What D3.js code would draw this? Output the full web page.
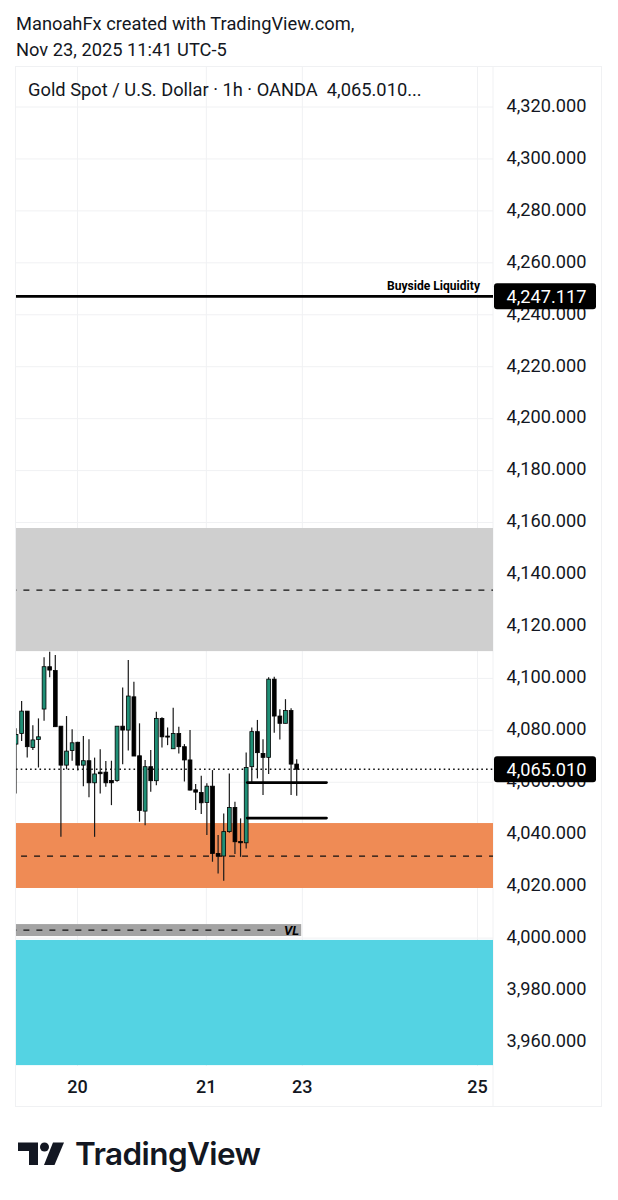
<!DOCTYPE html>
<html>
<head>
    <title>Gold Spot</title>
    <script src="https://d3js.org/d3.v7.min.js"></script>
    <style>
        html, body { margin: 0; padding: 0; background: #fff; }
        svg { display: block; font-family: Roboto, sans-serif; }
    </style>
</head>
<body>
    <svg id="chart" width="618" height="1200"></svg>

    <script>
        // candles
        var opens = [4074.7,4078.8,4087.4,4073.4,4076.5,4088.2,4104.5,4103.0,4081.6,4066.6,4072.2,4075.4,4066.6,4068.3,4059.8,4063.9,4063.9,4060.7,4060.7,4081.6,4080.1,4092.9,4070.2,4048.9,4066.0,4060.6,4084.6,4077.8,4072.9,4078.8,4073.7,4068.6,4057.1,4056.1,4052.2,4058.5,4032.6,4031.6,4041.0,4050.3,4037.2,4036.7,4066.0,4079.5,4071.1,4069.6,4099.7,4085.5,4082.7,4087.6,4067.0];
        var highs = [4080.8,4091.3,4087.4,4082.0,4084.6,4108.1,4110.3,4109.0,4081.6,4085.5,4080.4,4075.6,4077.8,4076.6,4069.5,4072.7,4068.2,4068.3,4081.6,4096.5,4107.1,4098.7,4082.7,4068.6,4072.4,4087.2,4085.0,4081.1,4088.7,4081.4,4074.7,4080.1,4059.3,4062.5,4059.6,4064.7,4039.7,4048.0,4063.4,4052.5,4046.1,4071.5,4081.1,4084.0,4076.6,4100.4,4100.6,4088.1,4092.0,4088.5,4068.9];
        var lows = [4055.7,4075.9,4069.5,4072.4,4065.7,4083.7,4100.4,4081.4,4039.0,4065.0,4068.3,4064.5,4058.5,4054.2,4039.0,4055.7,4058.3,4051.2,4060.2,4066.9,4072.2,4070.1,4044.8,4043.5,4056.4,4058.9,4073.4,4074.3,4072.9,4071.1,4060.3,4056.8,4049.3,4047.8,4039.7,4029.4,4024.9,4022.1,4040.6,4032.4,4031.3,4034.5,4059.6,4061.5,4055.1,4063.2,4079.1,4076.5,4082.7,4055.1,4054.8];
        var closes = [4078.4,4087.4,4073.7,4076.3,4077.5,4104.5,4103.2,4081.4,4066.6,4072.0,4075.2,4066.6,4068.3,4059.8,4063.2,4063.3,4059.8,4059.8,4081.6,4080.1,4093.2,4070.1,4049.1,4066.0,4060.6,4084.6,4077.5,4077.4,4078.8,4073.7,4068.6,4057.0,4056.2,4052.1,4058.5,4032.6,4031.6,4041.0,4050.3,4037.1,4036.7,4065.7,4079.5,4071.4,4069.6,4099.7,4085.5,4082.7,4087.6,4067.0,4065.0];

        var priceTicks = [4320,4300,4280,4260,4240,4220,4200,4180,4160,4140,4120,4100,4080,4060,4040,4020,4000,3980,3960];
        var timeTicks = [10.95,33.9,51,82.2];
        var timeLabels = ["20","21","23","25"];

        // zones: top price, bottom price, mid price, last bar
        var zoneNames = ["gray","orange","strip","cyan"];
        var zoneTops = [4157.9,4044.3,4005.4,3999.3];
        var zoneBottoms = [4110.5,4019.3,4000.8,3951.1];
        var zoneMids = [4134.0,4031.6,4003.1,null];
        var zoneEnds = [null,null,50.8,null];
        var zoneStarts = [-1,0.9,-1,null];
        var zoneColors = ["#cfcfcf","#ef8b55","#a3a3a3","#54d3e3"];

        var levelPrices = [4059.9,4046.2];
        var levelStart = 41.2, levelEnd = 55.3;
        var lastPrice = 4065.01;
        var buysidePrice = 4247.117;

        var paneLeft = 16, paneRight = 493, paneTop = 67, paneBottom = 1066, frameRight = 602, frameBottom = 1107;

        var svg = d3.select("#chart");
        var x = d3.scaleLinear().domain([0, 50]).range([16, 296.7]);
        var y = d3.scaleLinear().domain([4320, 3960]).range([107, 1042]);
        var fmt = d3.format(",.3f");

        svg.append("defs").append("clipPath").attr("id", "pane")
            .append("rect").attr("x", paneLeft).attr("y", paneTop).attr("width", paneRight - paneLeft).attr("height", paneBottom - paneTop);

        // header
        svg.append("text").attr("x", 16).attr("y", 30).attr("font-size", 18.3).attr("fill", "#131722").text("ManoahFx created with TradingView.com,");
        svg.append("text").attr("x", 16).attr("y", 56).attr("font-size", 18.3).attr("fill", "#131722").text("Nov 23, 2025 11:41 UTC-5");

        // frame and grid
        svg.append("rect").attr("x", paneLeft - 0.5).attr("y", paneTop - 0.5).attr("width", frameRight - paneLeft).attr("height", frameBottom - paneTop)
            .attr("fill", "none").attr("stroke", "#f0f1f3");

        var grid = svg.append("g").attr("stroke", "#f0f1f3");
        grid.selectAll("line.h").data(priceTicks).join("line").attr("class", "h")
            .attr("x1", paneLeft).attr("x2", paneRight).attr("y1", function(d) { return y(d); }).attr("y2", function(d) { return y(d); });
        grid.selectAll("line.v").data(timeTicks).join("line").attr("class", "v")
            .attr("x1", function(d) { return x(d); }).attr("x2", function(d) { return x(d); }).attr("y1", paneTop).attr("y2", paneBottom);
        svg.append("line").attr("x1", paneRight).attr("x2", paneRight).attr("y1", paneTop).attr("y2", frameBottom - 1).attr("stroke", "#f0f1f3");

        var pane = svg.append("g").attr("clip-path", "url(#pane)");

        // zones
        zoneNames.forEach(function(name, i) {
            var x0 = paneLeft, x1 = zoneEnds[i] === null ? paneRight : x(zoneEnds[i]);
            pane.append("rect").attr("x", x0).attr("y", y(zoneTops[i])).attr("width", x1 - x0)
                .attr("height", y(zoneBottoms[i]) - y(zoneTops[i])).attr("fill", zoneColors[i]);
            if (zoneMids[i] !== null) {
                pane.append("line").attr("x1", x(zoneStarts[i])).attr("x2", zoneEnds[i] === null ? paneRight : x(zoneEnds[i]) - 26)
                    .attr("y1", y(zoneMids[i])).attr("y2", y(zoneMids[i]))
                    .attr("stroke", "#111").attr("stroke-width", 1.2).attr("stroke-dasharray", "6 7");
            }
        });

        // last price dotted line
        pane.append("line").attr("x1", paneLeft).attr("x2", paneRight).attr("y1", y(lastPrice)).attr("y2", y(lastPrice))
            .attr("stroke", "#111").attr("stroke-width", 1.3).attr("stroke-dasharray", "1.6 3.1");

        // buyside line
        pane.append("line").attr("x1", paneLeft).attr("x2", paneRight).attr("y1", y(buysidePrice)).attr("y2", y(buysidePrice))
            .attr("stroke", "#000").attr("stroke-width", 2.8);

        // candles
        var idx = d3.range(opens.length);
        var candles = pane.append("g");
        candles.selectAll("line").data(idx).join("line")
            .attr("x1", function(i) { return x(i); }).attr("x2", function(i) { return x(i); })
            .attr("y1", function(i) { return y(highs[i]); }).attr("y2", function(i) { return y(lows[i]); })
            .attr("stroke", "#1a1a1a").attr("stroke-width", 1.2);
        candles.selectAll("rect").data(idx).join("rect")
            .attr("x", function(i) { return x(i) - 1.9; }).attr("width", 3.8)
            .attr("y", function(i) { return y(Math.max(opens[i], closes[i])); })
            .attr("height", function(i) { return Math.max(1, Math.abs(y(opens[i]) - y(closes[i]))); })
            .attr("fill", function(i) { return closes[i] > opens[i] ? "#1f8f76" : "#000"; })
            .attr("stroke", "#000").attr("stroke-width", 0.8);

        // swing levels
        pane.selectAll("line.level").data(levelPrices).join("line").attr("class", "level")
            .attr("x1", x(levelStart)).attr("x2", x(levelEnd))
            .attr("y1", function(d) { return y(d); }).attr("y2", function(d) { return y(d); })
            .attr("stroke", "#000").attr("stroke-width", 2.8).attr("stroke-linecap", "round");

        // labels on the chart
        svg.append("text").attr("x", 480).attr("y", y(buysidePrice) - 6).attr("text-anchor", "end")
            .attr("font-size", 12.1).attr("font-weight", 700).attr("fill", "#000").text("Buyside Liquidity");
        svg.append("text").attr("x", 299).attr("y", y(zoneMids[2]) + 4.5).attr("text-anchor", "end")
            .attr("font-size", 13).attr("font-weight", 700).attr("font-style", "italic").attr("fill", "#000").text("VL");
        svg.append("text").attr("x", 28).attr("y", 96).attr("font-size", 18.3).attr("fill", "#131722").attr("xml:space", "preserve")
            .text("Gold Spot / U.S. Dollar · 1h · OANDA  4,065.010...");

        // price axis
        var yAxis = d3.axisRight(y).tickValues(priceTicks).tickFormat(fmt).tickSize(0).tickPadding(0);
        var yG = svg.append("g").attr("transform", "translate(506.5,-1.5)").call(yAxis);
        yG.select(".domain").remove();
        yG.selectAll("text").attr("font-size", 18.2).attr("font-family", "Roboto, sans-serif").attr("fill", "#131722");

        // time axis
        var timeScale = d3.scaleOrdinal().domain(timeTicks).range(timeLabels);
        var xAxis = d3.axisBottom(x).tickValues(timeTicks).tickFormat(function(d) { return timeScale(d); }).tickSize(0).tickPadding(0);
        var xG = svg.append("g").attr("transform", "translate(-0.5,1080)").call(xAxis);
        xG.select(".domain").remove();
        xG.selectAll("text").attr("font-size", 18).attr("font-weight", 500).attr("font-family", "Roboto, sans-serif").attr("fill", "#131722");

        // price tags
        [buysidePrice, lastPrice].forEach(function(p) {
            svg.append("rect").attr("x", 494).attr("y", y(p) - 13).attr("width", 102).attr("height", 26).attr("rx", 3).attr("fill", "#000");
            svg.append("text").attr("x", 506.5).attr("y", y(p) + 6.5).attr("font-size", 18.2).attr("fill", "#fff").text(fmt(p));
        });

        // TradingView logo
        var logo = svg.append("g").attr("fill", "#131722");
        logo.append("path").attr("d", "M18 1142.5H38V1165H29V1151H18Z");
        logo.append("circle").attr("cx", 44.5).attr("cy", 1147).attr("r", 4.5);
        logo.append("path").attr("d", "M53 1142.5H64L54.5 1165H44Z");
        svg.append("text").attr("x", 75).attr("y", 1165).attr("font-family", "Inter, Roboto, sans-serif").attr("font-size", 31.5)
            .attr("font-weight", 600).attr("letter-spacing", -0.6).attr("fill", "#131722").text("TradingView");
    </script>
</body>
</html>
